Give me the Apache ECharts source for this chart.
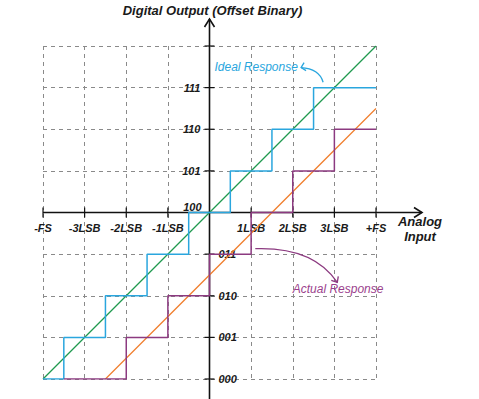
<!DOCTYPE html>
<html>
<head>
<meta charset="utf-8">
<script src="https://cdn.jsdelivr.net/npm/echarts@6/dist/echarts.min.js"></script>
<style>html,body{margin:0;padding:0;background:#fff;}#c{width:479px;height:399px;}</style>
</head>
<body>
<div id="c"></div>
<script>
// ---- data ----
const xTickValues = [-4, -3, -2, -1, 0, 1, 2, 3, 4];
const xTickLabels = ['-FS', '-3LSB', '-2LSB', '-1LSB', '', '1LSB', '2LSB', '3LSB', '+FS'];
const codeValues = [-4, -3, -2, -1, 0, 1, 2, 3];
const outputCodes = ['000', '001', '010', '011', '100', '101', '110', '111'];
const idealLine = [[-4, -4], [4, 4]];
const actualLine = [[-2.5, -4], [4, 2.5]];
const idealSteps = [[-4, -4], [-3.5, -3], [-2.5, -2], [-1.5, -1], [-0.5, 0], [0.5, 1], [1.5, 2], [2.5, 3], [4, 3]];
const actualSteps = [[-3.5, -4], [-2, -3], [-1, -2], [0, -1], [1, 0], [2, 1], [3, 2], [4, 2]];

const FONT = '"Liberation Sans", Arial, sans-serif';
const TXT = '#1a1a1a';
const BLUE = '#2aa6de', GREEN = '#1f9a4f', ORANGE = '#f07f2e', PURPLE = '#8c3a80';

const chart = echarts.init(document.getElementById('c'), null, {renderer: 'svg'});
const gridDash = {color: '#8a8a8a', type: [4, 4], width: 1};
chart.setOption({
  animation: false,
  grid: {left: 43, right: 103, top: 46, bottom: 20},
  xAxis: {
    type: 'value', min: -4, max: 4, interval: 1,
    axisLine: {show: false}, axisTick: {show: false}, axisLabel: {show: false},
    splitLine: {show: true, lineStyle: gridDash}
  },
  yAxis: {
    type: 'value', min: -4, max: 4, interval: 1,
    axisLine: {show: false}, axisTick: {show: false}, axisLabel: {show: false},
    splitLine: {show: true, lineStyle: gridDash}
  },
  series: [
    {type: 'line', name: 'Ideal line', data: idealLine, symbol: 'none', lineStyle: {color: GREEN, width: 1.3}, z: 3},
    {type: 'line', name: 'Actual line', data: actualLine, symbol: 'none', lineStyle: {color: ORANGE, width: 1.3}, z: 3},
    {type: 'line', name: 'Ideal Response', data: idealSteps, step: 'end', symbol: 'none', lineStyle: {color: BLUE, width: 1.5}, z: 4},
    {type: 'line', name: 'Actual Response', data: actualSteps, step: 'end', symbol: 'none', lineStyle: {color: PURPLE, width: 1.5}, z: 4}
  ]
});

const px = p => chart.convertToPixel({gridIndex: 0}, p);
const o = px([0, 0]);
const ox = o[0], oy = o[1];
const topY = px([0, 4])[1];
const leftX = px([-4, 0])[0], rightX = px([4, 0])[0];
const g = [];
const ax = {stroke: '#111', lineWidth: 1.6};
// axes
g.push({type: 'line', z: 1, shape: {x1: ox, y1: topY - 27, x2: ox, y2: 399}, style: ax});
g.push({type: 'polyline', z: 1, shape: {points: [[ox - 5, topY - 19], [ox, topY - 27], [ox + 5, topY - 19]]}, style: Object.assign({fill: null}, ax)});
g.push({type: 'line', z: 1, shape: {x1: leftX, y1: oy, x2: rightX + 46, y2: oy}, style: ax});
g.push({type: 'polyline', z: 1, shape: {points: [[rightX + 38, oy - 5], [rightX + 46, oy], [rightX + 38, oy + 5]]}, style: Object.assign({fill: null}, ax)});
// ticks
xTickValues.forEach(v => { if (v !== 0) { const x = px([v, 0])[0]; g.push({type: 'line', z: 1, shape: {x1: x, y1: oy - 5, x2: x, y2: oy + 5}, style: {stroke: '#111', lineWidth: 1.2}}); } });
codeValues.concat([4]).forEach(v => { if (v !== 0) { const y = px([0, v])[1]; g.push({type: 'line', z: 1, shape: {x1: ox - 5, y1: y, x2: ox + 5, y2: y}, style: {stroke: '#111', lineWidth: 1.2}}); } });
// labels
const lab = {fill: TXT, font: 'italic bold 11px ' + FONT};
xTickValues.forEach((v, i) => {
  const x = px([v, 0])[0];
  g.push({type: 'text', z: 1, x: x, y: oy + 15, style: Object.assign({text: xTickLabels[i], align: 'center', verticalAlign: 'middle'}, lab)});
});
codeValues.forEach((v, i) => {
  const y = px([0, v])[1];
  if (v > 0) g.push({type: 'text', z: 1, x: ox - 9, y: y, style: Object.assign({text: outputCodes[i], align: 'right', verticalAlign: 'middle'}, lab)});
  else if (v === 0) g.push({type: 'text', z: 1, x: ox - 8, y: y - 6, style: Object.assign({text: outputCodes[i], align: 'right', verticalAlign: 'middle'}, lab)});
  else g.push({type: 'text', z: 1, x: ox + 9, y: y, style: Object.assign({text: outputCodes[i], align: 'left', verticalAlign: 'middle'}, lab)});
});
// titles
g.push({type: 'text', z: 1, x: ox + 3, y: 10, style: {text: 'Digital Output (Offset Binary)', align: 'center', verticalAlign: 'middle', fill: TXT, font: 'italic bold 13px ' + FONT}});
g.push({type: 'text', z: 1, x: rightX + 44, y: oy + 16, style: {text: 'Analog\nInput', align: 'center', verticalAlign: 'middle', lineHeight: 15, fill: TXT, font: 'italic bold 13px ' + FONT}});
// annotations
const a1 = px([0.12, 3.5]);
g.push({type: 'text', z: 5, x: a1[0], y: a1[1], style: {text: 'Ideal Response', align: 'left', verticalAlign: 'middle', fill: BLUE, font: 'italic 12px ' + FONT}});
const s1 = px([2.73, 3.13]), e1 = px([2.2, 3.48]);
g.push({type: 'bezierCurve', z: 5, shape: {x1: s1[0], y1: s1[1], x2: e1[0], y2: e1[1], cpx1: s1[0] - 4, cpy1: e1[1] + 1}, style: {stroke: BLUE, lineWidth: 1.3, fill: null}});
g.push({type: 'polyline', z: 5, shape: {points: [[e1[0] + 3, e1[1] - 5], [e1[0], e1[1]], [e1[0] + 5, e1[1] + 3]]}, style: {stroke: BLUE, lineWidth: 1.3, fill: null}});
const a2 = px([2.0, -1.83]);
g.push({type: 'text', z: 5, x: a2[0], y: a2[1], style: {text: 'Actual Response', align: 'left', verticalAlign: 'middle', fill: '#9b3f8d', font: 'italic 12px ' + FONT}});
const s2 = px([1.1, -0.87]), e2 = px([3.07, -1.68]);
g.push({type: 'bezierCurve', z: 5, shape: {x1: s2[0], y1: s2[1], x2: e2[0], y2: e2[1], cpx1: s2[0] + 58, cpy1: s2[1] - 2}, style: {stroke: PURPLE, lineWidth: 1.3, fill: null}});
g.push({type: 'polyline', z: 5, shape: {points: [[e2[0] - 6, e2[1] - 2], [e2[0], e2[1]], [e2[0] + 1, e2[1] - 6]]}, style: {stroke: PURPLE, lineWidth: 1.3, fill: null}});
chart.setOption({graphic: g});
</script>
</body>
</html>
